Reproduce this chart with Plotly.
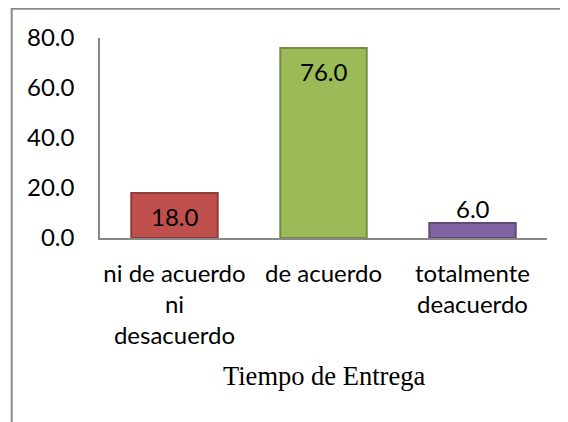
import plotly.graph_objects as go

# survey answers for "Tiempo de Entrega" (percent)
categories = ["ni de acuerdo<br>ni<br>desacuerdo", "de acuerdo", "totalmente<br>deacuerdo"]
values = [18.0, 76.0, 6.0]
tick_values = [0, 20, 40, 60, 80]
axis_title = "Tiempo de Entrega"

fill_colors = ["#C0504D", "#9BBB59", "#8064A2"]
line_colors = ["#8E3B39", "#738B42", "#5E4A78"]

label_font = dict(family="Lato, Carlito, sans-serif", size=24, color="#000000")

# page body has an 8px margin, so the figure is a bit smaller than the window
W, H = 560, 414
ML, MR, MT, MB = 92, 21, 29.5, 183.5
plot_w = W - ML - MR
plot_h = H - MT - MB

fig = go.Figure(
    go.Bar(
        x=categories,
        y=values,
        marker=dict(color=fill_colors, line=dict(color=line_colors, width=2)),
        width=0.58,
        showlegend=False,
        hoverinfo="skip",
    )
)

# value labels: inside the top of tall bars, above short ones
for cat, val in zip(categories, values):
    inside = val > 10
    fig.add_annotation(
        x=cat, y=val, xref="x", yref="y",
        text=f"{val:.1f}", showarrow=False,
        yanchor="top" if inside else "bottom",
        yshift=-7 if inside else -2,
        font=label_font,
    )

# x axis title, centred under the plot
fig.add_annotation(
    x=0.5, y=-0.689, xref="paper", yref="paper",
    text=axis_title, showarrow=False,
    xanchor="center", yanchor="middle",
    font=dict(family="Liberation Serif, Times New Roman, serif", size=26.5, color="#000000"),
)

# chart-area frame (cut off on the right and bottom like the source)
fig.add_shape(
    type="rect", xref="paper", yref="paper",
    x0=(3.7 - ML) / plot_w, x1=1.2, y0=-1.5, y1=1 + MT / plot_h,
    line=dict(color="#8A8A8A", width=2),
    fillcolor="rgba(0,0,0,0)", layer="below",
)

fig.update_layout(
    width=W,
    height=H,
    margin=dict(l=ML, r=MR, t=MT, b=MB),
    paper_bgcolor="white",
    plot_bgcolor="white",
    bargap=0.42,
    font=label_font,
)
fig.update_xaxes(
    showline=True, linecolor="#888888", linewidth=1.5,
    showgrid=False, ticks="", tickfont=label_font,
    ticklabelstandoff=13, fixedrange=True,
)
fig.update_yaxes(
    range=[0, 80], tickvals=tick_values, tickformat=".1f",
    showline=True, linecolor="#888888", linewidth=1.5,
    showgrid=False, zeroline=False, ticks="", tickfont=label_font,
    ticklabelstandoff=19, fixedrange=True,
)

fig.write_html("out.html")
